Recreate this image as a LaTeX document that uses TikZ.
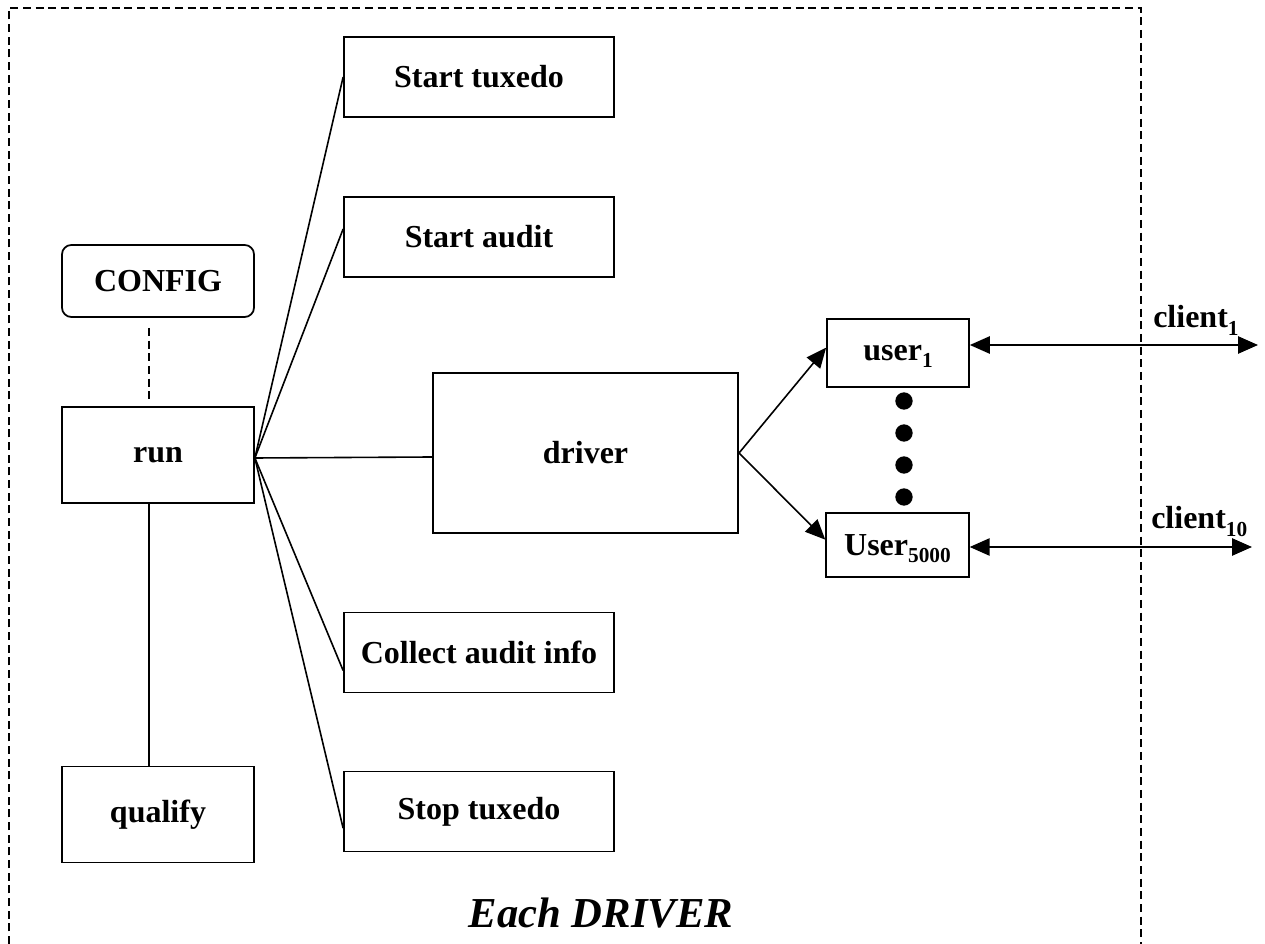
\documentclass[tikz,border=0pt]{standalone}
\usepackage{fontspec}
\setmainfont{Liberation Serif}
\usetikzlibrary{arrows.meta}
\newcommand{\sub}[1]{\smash{\raisebox{-5.5pt}{\fontsize{16}{16}\selectfont #1}}}
\tikzset{
  box/.style={draw, line width=1.3pt, inner sep=0pt, align=center,
    font=\fontsize{24}{28}\selectfont\bfseries},
  conn/.style={line width=1.2pt},
  arr/.style={line width=1.2pt, -{Triangle[length=15pt,width=13pt]}},
  darr/.style={line width=1.2pt, {Triangle[length=15pt,width=13pt]}-{Triangle[length=15pt,width=13pt]}},
  dashline/.style={line width=1.2pt, dash pattern=on 6pt off 3.5pt},
  dot/.style={circle, fill=black, inner sep=0pt, minimum size=13pt},
  lbl/.style={font=\fontsize{24}{28}\selectfont\bfseries, inner sep=0pt}
}
\begin{document}
\begin{tikzpicture}[x=0.75pt,y=-0.75pt]
\useasboundingbox (0,0) rectangle (1265,944);
% border (open at bottom)
\coordinate (bl) at (9,944);
\coordinate (tl) at (9,8);
\coordinate (tr) at (1141,8);
\coordinate (br) at (1141,944);
\draw[dashline] (bl) -- (tl) -- (tr) -- (br);

\node[box, minimum width=202.5pt, minimum height=60pt] (tux) at (479,77) {Start tuxedo};
\node[box, minimum width=202.5pt, minimum height=60pt] (audit) at (479,237) {Start audit};
\node[box, minimum width=202.5pt, minimum height=60pt] (collect) at (479,652.5) {Collect audit info};
\node[box, minimum width=202.5pt, minimum height=60pt] (stop) at (479,811.5) {Stop tuxedo};
\node[box, rounded corners=7pt, minimum width=144pt, minimum height=54pt] (config) at (158,281) {CONFIG};
\node[box, minimum width=144pt, minimum height=72pt] (run) at (158,455) {run};
\node[box, minimum width=144pt, minimum height=72pt] (qualify) at (158,814.5) {qualify};
\node[box, minimum width=229pt, minimum height=120pt] (driver) at (585.5,453) {driver};
\node[box, minimum width=106.5pt, minimum height=51pt] (user1) at (898,353) {user\sub{1}};
\node[box, minimum width=107pt, minimum height=48pt] (user5000) at (897.5,545) {User\sub{5000}};

\node[dot] (d1) at (904,401) {};
\node[dot] (d2) at (904,433) {};
\node[dot] (d3) at (904,465) {};
\node[dot] (d4) at (904,497) {};

% config - run dashed
\draw[dashline, shorten <=7.5pt, shorten >=3pt] ([xshift=-6.75pt]config.south) -- ([xshift=-6.75pt]run.north);
% run - qualify
\draw[conn] ([xshift=-6.75pt]run.south) -- ([xshift=-6.75pt]qualify.north);

% fan from run
\coordinate (rf) at ([yshift=-2.25pt]run.east);
\draw[conn] (rf) -- (tux.west);
\draw[conn] (rf) -- ([yshift=6pt]audit.west);
\draw[conn] (rf) -- ([yshift=-3pt]driver.west);
\draw[conn] (rf) -- ([yshift=-13.5pt]collect.west);
\draw[conn] (rf) -- ([yshift=-12.5pt]stop.west);

% driver to users
\draw[arr] (driver.east) -- ([yshift=4pt]user1.west);
\draw[arr] (driver.east) -- ([yshift=4pt]user5000.west);

% clients
\coordinate (c1) at (1258,345);
\coordinate (c10) at (1252,547);
\draw[darr] ([yshift=6pt]user1.east) -- (c1);
\draw[darr] ([yshift=-1.5pt]user5000.east) -- (c10);
\node[lbl, anchor=base west] (cl1) at (1153,328) {client\sub{1}};
\node[lbl, anchor=base west] (cl10) at (1151,529) {client\sub{10}};

\node[font=\fontsize{32}{36}\selectfont\bfseries\itshape, inner sep=0pt, anchor=base] (each) at (601,927) {Each DRIVER};
\end{tikzpicture}
\end{document}
